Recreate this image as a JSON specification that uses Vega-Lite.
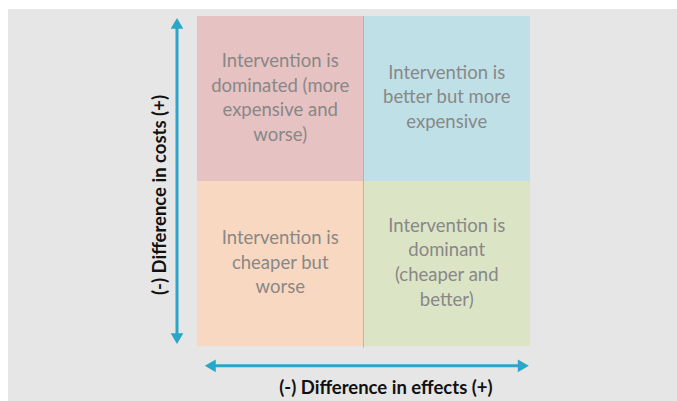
{
  "$schema": "https://vega.github.io/schema/vega-lite/v6.json",
  "width": 669,
  "height": 392,
  "autosize": {"type": "none"},
  "padding": {"left": 8, "top": 9, "right": 0, "bottom": 0},
  "background": "white",
  "config": {"view": {"stroke": null, "fill": "#e6e6e6"}},
  "resolve": {"scale": {"color": "independent", "shape": "independent"}},
  "layer": [
    {
      "data": {"values": [
        {"quadrant": "dominated", "x0": -1, "x1": 0, "y0": 0, "y1": 1},
        {"quadrant": "better", "x0": 0, "x1": 1, "y0": 0, "y1": 1},
        {"quadrant": "cheaper", "x0": -1, "x1": 0, "y0": -1, "y1": 0},
        {"quadrant": "dominant", "x0": 0, "x1": 1, "y0": -1, "y1": 0}
      ]},
      "mark": {"type": "rect"},
      "encoding": {
        "x": {"field": "x0", "type": "quantitative", "scale": {"domain": [-2.135, 1.883], "nice": false, "zero": false}, "axis": null},
        "x2": {"field": "x1"},
        "y": {"field": "y0", "type": "quantitative", "scale": {"domain": [-1.333, 1.042], "nice": false, "zero": false}, "axis": null},
        "y2": {"field": "y1"},
        "color": {"field": "quadrant", "type": "nominal", "legend": null,
          "scale": {"domain": ["dominated", "better", "cheaper", "dominant"], "range": ["#e6c2c2", "#c0e0e7", "#f8d8c0", "#dce4c6"]}}
      }
    },
    {
      "data": {"values": [{"x": 0, "y": -1.01, "y2": 1}]},
      "mark": {"type": "rule", "color": "#9a9a9a", "strokeWidth": 1, "opacity": 0.6},
      "encoding": {
        "x": {"field": "x", "type": "quantitative"},
        "y": {"field": "y", "type": "quantitative"},
        "y2": {"field": "y2"}
      }
    },
    {
      "data": {"values": [
        {"x": -0.5, "y": 0.727, "label": "Intervention is\ndominated (more\nexpensive and\nworse)"},
        {"x": 0.5, "y": 0.656, "label": "Intervention is\nbetter but more\nexpensive"},
        {"x": -0.5, "y": -0.345, "label": "Intervention is\ncheaper but\nworse"},
        {"x": 0.5, "y": -0.271, "label": "Intervention is\ndominant\n(cheaper and\nbetter)"}
      ]},
      "mark": {"type": "text", "font": "Lato", "fontSize": 18.5, "color": "#888888", "align": "center", "baseline": "middle", "lineBreak": "\n", "lineHeight": 24.6},
      "encoding": {
        "x": {"field": "x", "type": "quantitative"},
        "y": {"field": "y", "type": "quantitative"},
        "text": {"field": "label"}
      }
    },
    {
      "data": {"values": [
        {"x": -1.12, "y": -0.95, "x2": -1.12, "y2": 0.95},
        {"x": -0.92, "y": -1.12, "x2": 0.96, "y2": -1.12}
      ]},
      "mark": {"type": "rule", "color": "#2aa6c8", "strokeWidth": 3},
      "encoding": {
        "x": {"field": "x", "type": "quantitative"},
        "y": {"field": "y", "type": "quantitative"},
        "x2": {"field": "x2"},
        "y2": {"field": "y2"}
      }
    },
    {
      "data": {"values": [
        {"x": -1.12, "y": 0.955, "dir": "up"},
        {"x": -1.12, "y": -0.955, "dir": "down"},
        {"x": -0.92, "y": -1.12, "dir": "left"},
        {"x": 0.96, "y": -1.12, "dir": "right"}
      ]},
      "mark": {"type": "point", "filled": true, "color": "#2aa6c8", "size": 160, "opacity": 1},
      "encoding": {
        "x": {"field": "x", "type": "quantitative"},
        "y": {"field": "y", "type": "quantitative"},
        "shape": {"field": "dir", "type": "nominal", "legend": null,
          "scale": {"domain": ["up", "down", "left", "right"], "range": ["triangle-up", "triangle-down", "triangle-left", "triangle-right"]}}
      }
    },
    {
      "data": {"values": [{"x": 0.135, "y": -1.255, "label": "(-) Difference in effects (+)"}]},
      "mark": {"type": "text", "font": "Lato", "fontSize": 18.5, "fontWeight": "bold", "color": "#111111", "align": "center", "baseline": "middle"},
      "encoding": {
        "x": {"field": "x", "type": "quantitative"},
        "y": {"field": "y", "type": "quantitative"},
        "text": {"field": "label"}
      }
    },
    {
      "data": {"values": [{"x": -1.222, "y": -0.085, "label": "(-) Difference in costs (+)"}]},
      "mark": {"type": "text", "font": "Lato", "fontSize": 18.5, "fontWeight": "bold", "color": "#111111", "align": "center", "baseline": "middle", "angle": 270},
      "encoding": {
        "x": {"field": "x", "type": "quantitative"},
        "y": {"field": "y", "type": "quantitative"},
        "text": {"field": "label"}
      }
    }
  ]
}
